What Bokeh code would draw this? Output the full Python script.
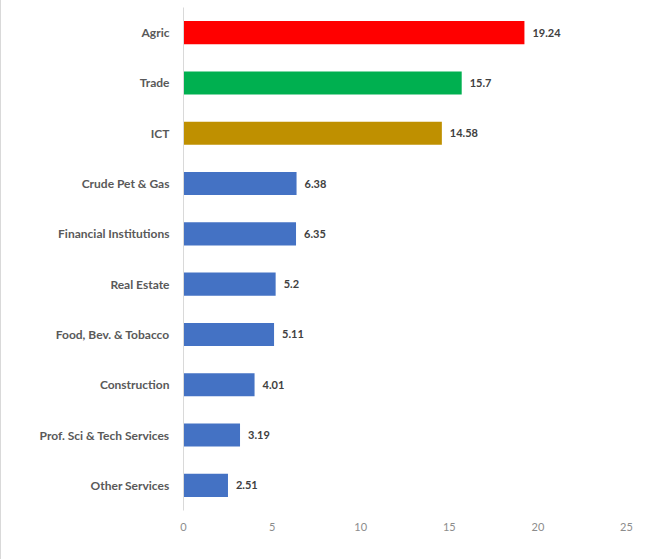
from bokeh.plotting import figure
from bokeh.models import ColumnDataSource, FixedTicker, Range1d
from bokeh.embed import file_html
from bokeh.resources import INLINE
from bokeh.core.properties import value

categories = ["Agric", "Trade", "ICT", "Crude Pet & Gas", "Financial Institutions",
              "Real Estate", "Food, Bev. & Tobacco", "Construction",
              "Prof. Sci & Tech Services", "Other Services"]
values = [19.24, 15.7, 14.58, 6.38, 6.35, 5.2, 5.11, 4.01, 3.19, 2.51]
value_labels = ["19.24", "15.7", "14.58", "6.38", "6.35", "5.2", "5.11", "4.01", "3.19", "2.51"]
bar_colors = ["#FF0000", "#00B050", "#BF9000"] + ["#4472C4"] * 7
x_ticks = [0, 5, 10, 15, 20, 25]

src = ColumnDataSource(dict(cat=categories, val=values, lab=value_labels, col=bar_colors))

p = figure(width=656, height=559, y_range=list(reversed(categories)),
           x_range=Range1d(0, 25), output_backend="svg", toolbar_location=None,
           min_border_left=182, min_border_right=31, min_border_top=7, min_border_bottom=49)
p.styles = {"border-left": "1px solid #d9d9d9"}

p.hbar(y="cat", right="val", left=0, height=0.46, fill_color="col",
       line_color=None, source=src)
p.text(x="val", y="cat", text="lab", source=src, x_offset=8,
       text_align="left", text_baseline="middle", text_font=value("Lato"),
       text_font_size="11px", text_font_style="bold", text_color="#404040")

p.outline_line_color = None
p.xgrid.grid_line_color = None
p.ygrid.grid_line_color = None

p.xaxis.ticker = FixedTicker(ticks=x_ticks)
p.xaxis.axis_line_color = None
p.xaxis.major_tick_line_color = None
p.xaxis.minor_tick_line_color = None
p.xaxis.major_label_text_font = "Lato"
p.xaxis.major_label_text_font_size = "11px"
p.xaxis.major_label_text_color = "#8c8c8c"
p.xaxis.major_label_standoff = 6

p.yaxis.axis_line_color = "#d9d9d9"
p.yaxis.major_tick_line_color = None
p.yaxis.minor_tick_line_color = None
p.yaxis.major_label_text_font = "Lato"
p.yaxis.major_label_text_font_size = "12px"
p.yaxis.major_label_text_font_style = "bold"
p.yaxis.major_label_text_color = "#595959"
p.yaxis.major_label_standoff = 8

open("out.html", "w").write(file_html(p, INLINE))
